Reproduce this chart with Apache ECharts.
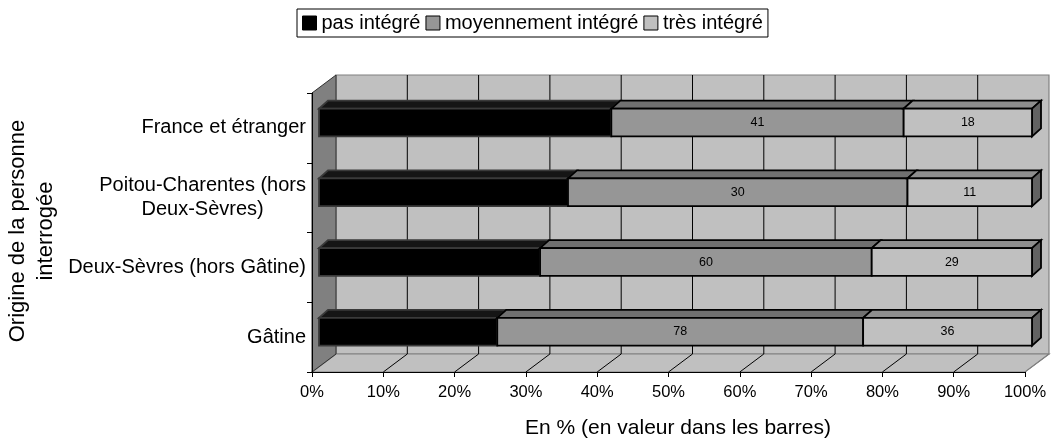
<!DOCTYPE html>
<html><head><meta charset="utf-8">
<script src="https://cdn.jsdelivr.net/npm/echarts@6/dist/echarts.min.js"></script>
<style>html,body{margin:0;padding:0;background:#fff}#c{width:1059px;height:440px}</style>
</head><body><div id="c"></div>
<script>
// ---- data ----
const categories = ['France et étranger', 'Poitou-Charentes (hors\nDeux-Sèvres)', 'Deux-Sèvres (hors Gâtine)', 'Gâtine'];
const seriesNames = ['pas intégré', 'moyennement intégré', 'très intégré'];
const pasIntegre = [41, 22, 40, 38];
const moyennementIntegre = [41, 30, 60, 78];
const tresIntegre = [18, 11, 29, 36];
const percentTicks = [0, 10, 20, 30, 40, 50, 60, 70, 80, 90, 100];
const showValue = [false, true, true];

const FONT = "'Liberation Sans', Arial, sans-serif";
const faceColors = ['#000000', '#969696', '#c0c0c0'];
const topColors = ['#151515', '#707070', '#8e8e8e'];
const strokeColors = ['#3a3a3a', '#000000', '#000000'];
const sideColor = '#626262';
const DEPTH = [24, -18];      // depth of the 3D box
const BAR_FRONT = [7, -5.3];  // bar front offset inside depth
const BAR_DEPTH = [9, -8];    // bar thickness in depth

const raw = [pasIntegre, moyennementIntegre, tresIntegre];
const totals = categories.map((c, i) => raw.reduce((s, arr) => s + arr[i], 0));
const segData = raw.map((arr, si) => categories.map((c, ci) => {
  let before = 0;
  for (let k = 0; k < si; k++) before += raw[k][ci];
  return [before / totals[ci] * 100, (before + arr[ci]) / totals[ci] * 100, ci, arr[ci]];
}));

function envRender(params, api) {
  const band = api.size([0, 1])[1];
  const top = api.coord([0, 0])[1] - band / 2;
  const bottom = api.coord([0, categories.length - 1])[1] + band / 2;
  const xL = api.coord([0, 0])[0], xR = api.coord([100, 0])[0];
  const [DX, DY] = DEPTH;
  const ch = [];
  ch.push({type: 'polygon', shape: {points: [[xL + DX, top + DY], [xR + DX, top + DY], [xR + DX, bottom + DY], [xL + DX, bottom + DY]]},
    style: {fill: '#c0c0c0', stroke: '#808080', lineWidth: 1.2}});
  ch.push({type: 'polygon', shape: {points: [[xL, bottom], [xL + DX, bottom + DY], [xR + DX, bottom + DY], [xR, bottom]]},
    style: {fill: '#c0c0c0', stroke: '#808080', lineWidth: 1.2}});
  ch.push({type: 'polygon', shape: {points: [[xL, top], [xL + DX, top + DY], [xL + DX, bottom + DY], [xL, bottom]]},
    style: {fill: '#808080', stroke: '#303030', lineWidth: 1}});
  percentTicks.forEach(v => {
    const x = api.coord([v, 0])[0];
    if (v > 0 && v < 100) {
      ch.push({type: 'line', shape: {x1: x + DX, y1: top + DY, x2: x + DX, y2: bottom + DY}, style: {stroke: '#000', lineWidth: 1}});
    }
    if (v > 0) {
      ch.push({type: 'line', shape: {x1: x, y1: bottom, x2: x + DX, y2: bottom + DY}, style: {stroke: v < 100 ? '#000' : '#808080', lineWidth: 1}});
    }
  });
  return {type: 'group', children: ch};
}

function makeBarRender(si) {
  return function (params, api) {
    const s = api.value(0), e = api.value(1), cat = api.value(2), val = api.value(3);
    const p0 = api.coord([s, cat]), p1 = api.coord([e, cat]);
    const band = api.size([0, 1])[1];
    const h = band * 0.398;
    const x0 = p0[0] + BAR_FRONT[0], x1 = p1[0] + BAR_FRONT[0];
    const yc = p0[1] + BAR_FRONT[1];
    const yt = yc - h / 2, yb = yc + h / 2;
    const [dx, dy] = BAR_DEPTH;
    const st = strokeColors[si];
    const lw = 1.8;
    const ch = [];
    ch.push({type: 'polygon', shape: {points: [[x0, yt], [x1, yt], [x1 + dx, yt + dy], [x0 + dx, yt + dy]]},
      style: {fill: topColors[si], stroke: st, lineWidth: lw, lineJoin: 'miter'}});
    if (si === raw.length - 1) {
      ch.push({type: 'polygon', shape: {points: [[x1, yt], [x1 + dx, yt + dy], [x1 + dx, yb + dy], [x1, yb]]},
        style: {fill: sideColor, stroke: st, lineWidth: lw}});
    }
    ch.push({type: 'rect', shape: {x: x0, y: yt, width: x1 - x0, height: h},
      style: {fill: faceColors[si], stroke: st, lineWidth: lw}});
    if (showValue[si]) {
      ch.push({type: 'text', style: {text: String(val), x: (x0 + x1) / 2, y: yc, align: 'center', verticalAlign: 'middle',
        fontSize: 12.5, fontFamily: FONT, fill: '#000'}});
    }
    return {type: 'group', children: ch};
  };
}

const series = [{
  type: 'custom', name: '__env', z: 1, silent: true,
  renderItem: envRender, data: [[0, 0]], encode: {x: 0, y: 1}
}];
seriesNames.forEach((n, si) => {
  series.push({
    type: 'custom', name: n, z: 2,
    itemStyle: {color: faceColors[si], borderColor: '#000', borderWidth: 1},
    renderItem: makeBarRender(si),
    dimensions: ['s', 'e', 'cat', 'v'],
    encode: {x: [0, 1], y: 2},
    data: segData[si]
  });
});

const chart = echarts.init(document.getElementById('c'));
chart.setOption({
  animation: false,
  backgroundColor: '#fff',
  textStyle: {fontFamily: FONT},
  grid: {left: 312, right: 34, top: 93, bottom: 68},
  legend: {
    left: 297, top: 9, padding: [4, 5], itemGap: 5, itemWidth: 14, itemHeight: 14,
    borderColor: '#000', borderWidth: 1,
    textStyle: {fontSize: 20, color: '#000', fontFamily: FONT},
    data: seriesNames.map((n, i) => ({name: n, icon: 'rect', itemStyle: {color: faceColors[i], borderColor: '#000', borderWidth: 1}}))
  },
  xAxis: {
    type: 'value', min: 0, max: 100, interval: 10, z: 5,
    axisLine: {show: true, lineStyle: {color: '#000', width: 1}},
    axisTick: {show: true, length: 5, lineStyle: {color: '#000'}},
    splitLine: {show: false},
    axisLabel: {formatter: v => percentTicks.includes(v) ? v + '%' : '', fontSize: 16.5, color: '#000', margin: 12, fontFamily: FONT}
  },
  yAxis: {
    type: 'category', data: categories, inverse: true, z: 5,
    axisLine: {show: true, lineStyle: {color: '#000', width: 1}},
    axisTick: {show: true, length: 5, lineStyle: {color: '#000'}},
    splitLine: {show: false},
    axisLabel: {
      margin: 6, color: '#000', fontSize: 20, fontFamily: FONT,
      formatter: v => v.split('\n').map(s => '{c|' + s + '}').join('\n'),
      rich: {c: {align: 'center', fontSize: 20, lineHeight: 24, color: '#000', fontFamily: FONT}}
    }
  },
  graphic: [
    {type: 'text', x: 32, y: 231, rotation: Math.PI / 2,
      style: {text: 'Origine de la personne\ninterrogée', align: 'center', verticalAlign: 'middle',
        fontSize: 22, lineHeight: 28, fontFamily: FONT, fill: '#000'}},
    {type: 'text', x: 678, y: 428,
      style: {text: 'En % (en valeur dans les barres)', align: 'center', verticalAlign: 'middle',
        fontSize: 21, fontFamily: FONT, fill: '#000'}}
  ],
  series: series
});
</script>
</body></html>
